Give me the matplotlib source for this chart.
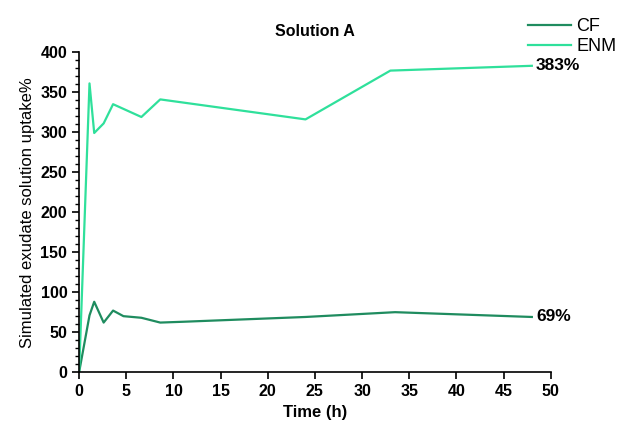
import numpy as np
import matplotlib.pyplot as plt
from matplotlib.ticker import MultipleLocator

plt.rcParams['font.family'] = ['Liberation Sans', 'DejaVu Sans']

# data
cf_time = [0, 1.1, 1.6, 2.6, 3.6, 4.7, 6.6, 8.6, 11, 24, 33.5, 48]
cf_uptake = [0, 71, 88, 62, 77, 70, 68, 62, 63, 69, 75, 69]

enm_time = [0, 1.1, 1.6, 2.6, 3.6, 6.6, 8.6, 24, 33, 48]
enm_uptake = [0, 361, 299, 311, 335, 319, 341, 316, 377, 383]

end_labels = ["69%", "383%"]

cf_color = '#1f8c5f'
enm_color = '#2fe09b'

fig = plt.figure(figsize=(6.33, 4.21), dpi=100)
ax = fig.add_axes([0.125, 0.116, 0.745, 0.76])

l1, = ax.plot(cf_time, cf_uptake, color=cf_color, lw=1.6, label='CF')
l2, = ax.plot(enm_time, enm_uptake, color=enm_color, lw=1.6, label='ENM')

for t, v, lab in [(cf_time[-1], cf_uptake[-1], end_labels[0]),
                  (enm_time[-1], enm_uptake[-1], end_labels[1])]:
    ax.annotate(lab, xy=(t, v), xytext=(3, 0), textcoords='offset points',
                va='center', ha='left', fontsize=12.5, fontweight='bold')

ax.set_xlim(0, 50)
ax.set_ylim(0, 400)
ax.xaxis.set_major_locator(MultipleLocator(5))
ax.yaxis.set_major_locator(MultipleLocator(50))
ax.yaxis.set_minor_locator(MultipleLocator(10))
ax.tick_params(axis='both', which='major', length=5, width=1.2, labelsize=11.5)
ax.tick_params(axis='y', which='minor', length=3, width=1)
for lab in ax.get_xticklabels() + ax.get_yticklabels():
    lab.set_fontweight('bold')

for side in ['top', 'right']:
    ax.spines[side].set_visible(False)
for side in ['left', 'bottom']:
    ax.spines[side].set_linewidth(1.2)

ax.set_xlabel('Time (h)', fontsize=12, fontweight='bold')
ax.set_ylabel('Simulated exudate solution uptake%', fontsize=12, labelpad=4)
ax.set_title('Solution A', fontsize=11.5, fontweight='bold', pad=12)

fig.legend(handles=[l1, l2], loc='upper right', bbox_to_anchor=(1.0, 0.995),
           frameon=False, fontsize=13, handlelength=2.4, handletextpad=0.3,
           labelspacing=0.15)

fig.savefig('out.png', dpi=100)
